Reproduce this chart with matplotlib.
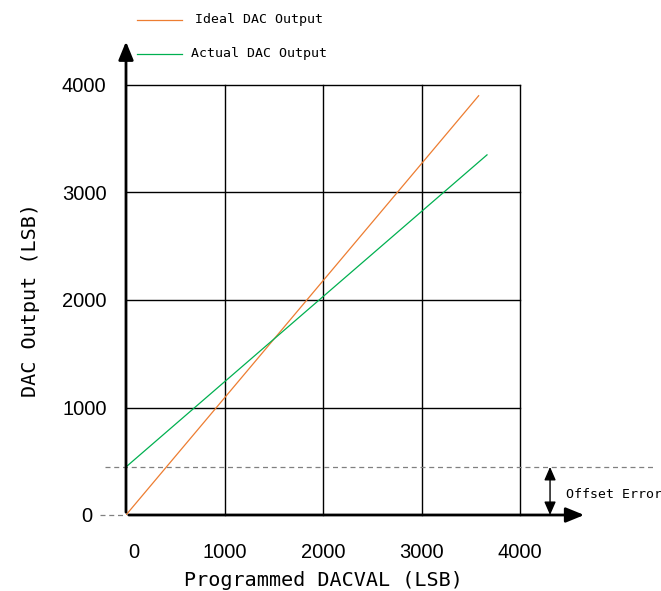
import numpy as np
import matplotlib
matplotlib.use("Agg")
import matplotlib.pyplot as plt
import matplotlib.transforms as mtransforms

# ideal and actual transfer lines (DACVAL -> output, LSB)
ideal_x = [0, 3580]
ideal_y = [0, 3900]
actual_x = [0, 3665]
actual_y = [447, 3350]
offset = 447

ticks = [0, 1000, 2000, 3000, 4000]
tick_labels = ["0", "1000", "2000", "3000", "4000"]

ORANGE = "#ED7D31"
GREEN = "#00B050"
MONO = ["DejaVu Sans Mono"]
SANS = ["Liberation Sans", "DejaVu Sans"]

W, H = 661, 591
fig = plt.figure(figsize=(W / 100, H / 100), dpi=100)
ax = fig.add_axes([126 / W, 1 - 515 / H, (520 - 126) / W, (515 - 85) / H])
ax.set_xlim(0, 4000)
ax.set_ylim(0, 4000)

# grid + box
for t in ticks[1:]:
    ax.axvline(t, color="black", lw=1.0, zorder=1, clip_on=False)
    ax.axhline(t, color="black", lw=1.0, zorder=1, clip_on=False)
for s in ax.spines.values():
    s.set_visible(False)

ax.plot(ideal_x, ideal_y, color=ORANGE, lw=0.9, zorder=3)
ax.plot(actual_x, actual_y, color=GREEN, lw=0.9, zorder=3)

# dashed reference lines
ax.plot([-210, 5370], [offset, offset], ls=(0, (4, 3)), color="#808080", lw=0.9, clip_on=False)
ax.plot([-260, 0], [0, 0], ls=(0, (4, 3)), color="#808080", lw=0.9, clip_on=False)

# main axes with arrowheads
ax.annotate("", xy=(4680, 0), xytext=(0, 0), annotation_clip=False,
            arrowprops=dict(arrowstyle="-|>,head_length=1.1,head_width=0.45", color="black", lw=2))
ax.annotate("", xy=(0, 4430), xytext=(0, 0), annotation_clip=False,
            arrowprops=dict(arrowstyle="-|>,head_length=1.1,head_width=0.45", color="black", lw=2))

# offset error double arrow
ax.annotate("", xy=(4305, 0), xytext=(4305, offset), annotation_clip=False,
            arrowprops=dict(arrowstyle="<|-|>,head_length=0.8,head_width=0.35", color="black", lw=1,
                            shrinkA=0, shrinkB=0))
ax.text(4470, 190, "Offset Error", family=MONO, fontsize=9.5, va="center", ha="left", clip_on=False)

ax.set_xticks(ticks)
ax.set_xticklabels(tick_labels, family=SANS, fontsize=14.5)
ax.set_yticks(ticks)
ax.set_yticklabels(tick_labels, family=SANS, fontsize=14.5)
ax.tick_params(length=0, pad=14, axis="y")
ax.tick_params(length=0, pad=20, axis="x")

# the "0" labels sit a little apart from the others
ax.get_yticklabels()[0].set_transform(
    ax.get_yticklabels()[0].get_transform() + mtransforms.ScaledTranslation(-0.14, 0, fig.dpi_scale_trans))
ax.get_xticklabels()[0].set_transform(
    ax.get_xticklabels()[0].get_transform() + mtransforms.ScaledTranslation(0.08, 0, fig.dpi_scale_trans))

ax.set_xlabel("Programmed DACVAL (LSB)", family=MONO, fontsize=14.5, labelpad=7)
ax.set_ylabel("DAC Output (LSB)", family=MONO, fontsize=14.5, labelpad=16)

# legend drawn by hand at the top
fig.add_artist(plt.Line2D([137 / W, 182 / W], [1 - 20 / H, 1 - 20 / H], color=ORANGE, lw=0.9))
fig.add_artist(plt.Line2D([137 / W, 182 / W], [1 - 54 / H, 1 - 54 / H], color=GREEN, lw=0.9))
fig.text(195 / W, 1 - 20 / H, "Ideal DAC Output", family=MONO, fontsize=9.5, va="center")
fig.text(191 / W, 1 - 54 / H, "Actual DAC Output", family=MONO, fontsize=9.5, va="center")

fig.savefig("out.png", dpi=100)
